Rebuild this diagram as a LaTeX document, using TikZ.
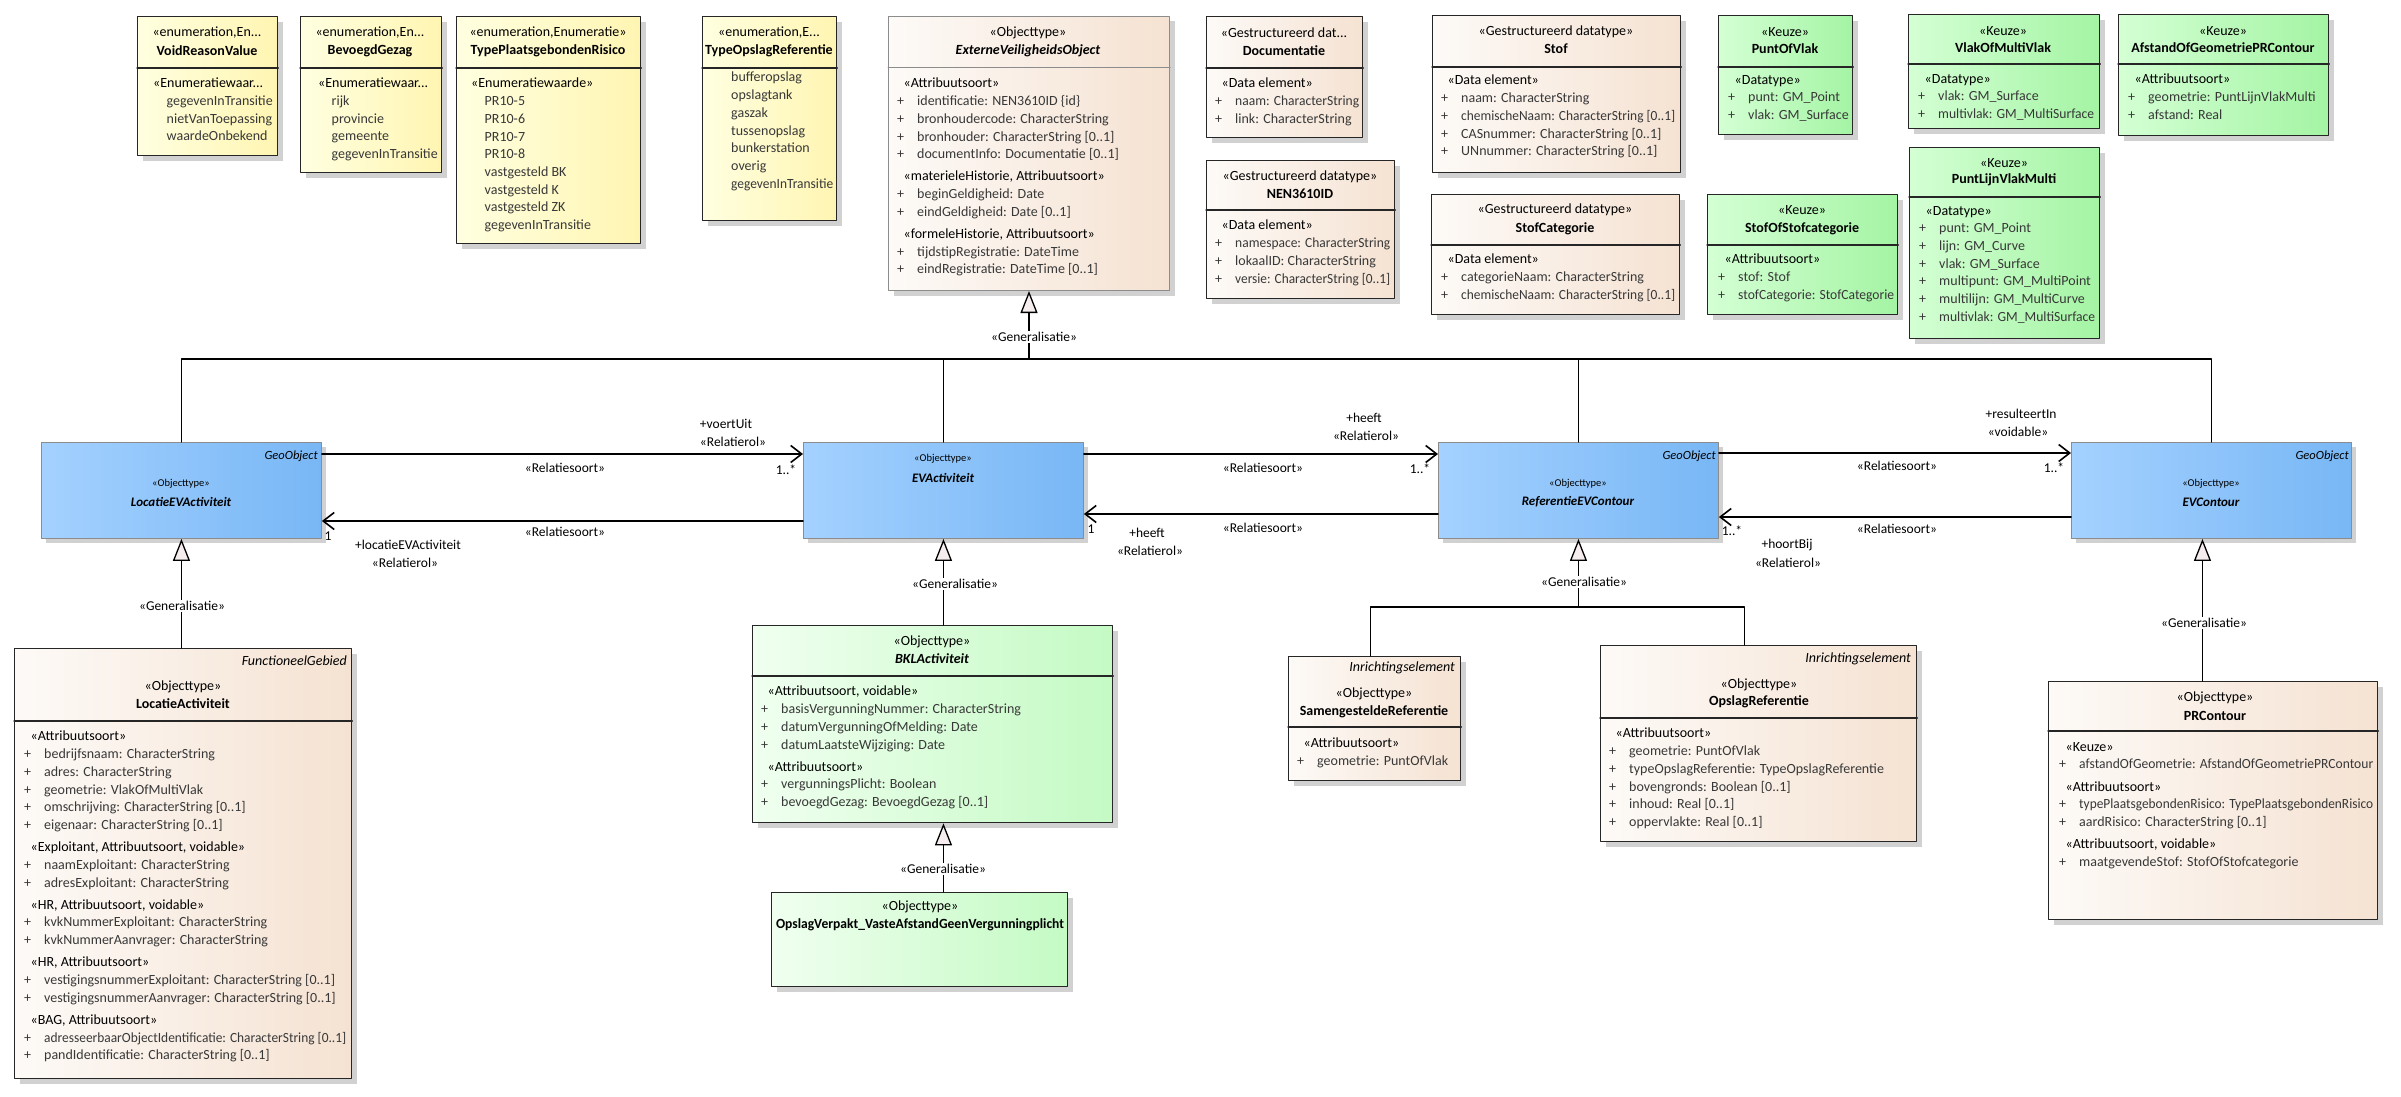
\documentclass[tikz,border=0pt]{standalone}
\usepackage{fontspec}
\setmainfont{Carlito}
\usepackage{graphicx}
\usetikzlibrary{arrows.meta,shadows}

\definecolor{enumL}{HTML}{FFFFE0}
\definecolor{enumR}{HTML}{FFF5B2}
\definecolor{datL}{HTML}{FDFAF7}
\definecolor{datR}{HTML}{F5E2D2}
\definecolor{keuL}{HTML}{D4FFD4}
\definecolor{keuR}{HTML}{A4F4A4}
\definecolor{bklL}{HTML}{F0FFF0}
\definecolor{bklR}{HTML}{C4FAC4}
\definecolor{blauL}{HTML}{A4D1FF}
\definecolor{blauR}{HTML}{78B7F5}
\definecolor{dreieck}{HTML}{F6EEEE}

% zu lange Zeilen horizontal stauchen
\newsavebox{\passbox}
\newcommand{\passend}[2]{\sbox{\passbox}{#2}\ifdim\wd\passbox>#1pt\relax\resizebox{#1pt}{\height}{\usebox{\passbox}}\else\usebox{\passbox}\fi}
\newcommand{\merk}[1]{\makebox[20pt][l]{+}#1}
\newcommand{\rubrik}[1]{\hspace*{6.5pt}\textcolor{black}{#1}}
\newcommand{\wert}[1]{\hspace*{13.5pt}#1}

\tikzset{
  kasten/.style={draw=black!85, line width=1.3pt, inner sep=0pt, anchor=north west,
    drop shadow={shadow xshift=5pt, shadow yshift=-5pt, fill=black!40, opacity=0.45}},
  enum/.style={kasten, left color=enumL, right color=enumR},
  daten/.style={kasten, left color=datL, right color=datR},
  keuze/.style={kasten, left color=keuL, right color=keuR},
  bkl/.style={kasten, left color=bklL, right color=bklR},
  geo/.style={kasten, draw=black!45, line width=0.9pt, left color=blauL, right color=blauR},
  abstr/.style={daten, draw=black!45, line width=1pt},
  trenn/.style={line width=1.3pt, draw=black!85},
  ster/.style={font=\fontsize{14}{16}\selectfont, inner sep=0pt},
  titel/.style={font=\fontsize{14}{16}\selectfont\bfseries, inner sep=0pt},
  abstitel/.style={font=\fontsize{14}{16}\selectfont\bfseries\itshape, inner sep=0pt},
  % Position = Grundlinie der ersten Zeile
  liste/.style={font=\fontsize{14}{17.7}\selectfont, text=black!78, align=left, anchor=north west,
    yshift=13pt, inner sep=0pt, execute at begin node={\rule{0pt}{13pt}}},
  obertyp/.style={font=\fontsize{14}{16}\selectfont\itshape, inner sep=0pt, anchor=east},
  bster/.style={font=\fontsize{10.5}{12}\selectfont, inner sep=0pt},
  bname/.style={font=\fontsize{13}{15}\selectfont\bfseries\itshape, inner sep=0pt},
  bober/.style={font=\fontsize{12.5}{14}\selectfont\itshape, inner sep=0pt, anchor=east},
  rel/.style={font=\fontsize{13.5}{15}\selectfont, inner sep=0pt},
  assoz/.style={line width=1.6pt, -{Straight Barb[length=11pt, width=17pt, line width=1.6pt]}},
  genl/.style={line width=1.3pt},
  gen/.style={genl, -{Triangle[length=22pt, width=17pt, fill=dreieck]}},
  genlab/.style={rel, fill=white, inner sep=1.5pt},
}

\begin{document}
\begin{tikzpicture}[x=1pt, y=-1pt, >=stealth, line cap=round, line join=round]
  \useasboundingbox (0,0) rectangle (2401,1097);

  % Aufzaehlungen
  \node[enum, minimum width=140, minimum height=139] (void) at (137,16) {};
  \draw[trenn] (void.west |- 0,68) -- (void.east |- 0,68);
  \node[ster] (void-s) at (207,33) {«enumeration,En...};
  \node[titel] (void-n) at (207,51) {VoidReasonValue};
  \node[liste] (void-l) at (153,91) {\textcolor{black}{«Enumeratiewaar...}\\\wert{\passend{106}{gegevenInTransitie}}\\\wert{\passend{106}{nietVanToepassing}}\\\wert{waardeOnbekend}};

  \node[enum, minimum width=141, minimum height=156] (bg) at (300,16) {};
  \draw[trenn] (bg.west |- 0,68) -- (bg.east |- 0,68);
  \node[ster] (bg-s) at (370,33) {«enumeration,En...};
  \node[titel] (bg-n) at (370,51) {BevoegdGezag};
  \node[liste] (bg-l) at (318,91) {\textcolor{black}{«Enumeratiewaar...}\\\wert{rijk}\\\wert{provincie}\\\wert{gemeente}\\\wert{\passend{106}{gegevenInTransitie}}};

  \node[enum, minimum width=184, minimum height=227] (tpr) at (456,16) {};
  \draw[trenn] (tpr.west |- 0,68) -- (tpr.east |- 0,68);
  \node[ster] (tpr-s) at (548,33) {«enumeration,Enumeratie»};
  \node[titel] (tpr-n) at (548,51) {TypePlaatsgebondenRisico};
  \node[liste] (tpr-l) at (471,91) {\textcolor{black}{«Enumeratiewaarde»}\\\wert{PR10-5}\\\wert{PR10-6}\\\wert{PR10-7}\\\wert{PR10-8}\\\wert{vastgesteld BK}\\\wert{vastgesteld K}\\\wert{vastgesteld ZK}\\\wert{gegevenInTransitie}};

  \node[enum, minimum width=134, minimum height=204] (tor) at (702,16) {};
  \draw[trenn] (tor.west |- 0,68) -- (tor.east |- 0,68);
  \node[ster] (tor-s) at (769,33) {«enumeration,E...};
  \node[titel] (tor-n) at (769,51) {\passend{128}{TypeOpslagReferentie}};
  \node[liste] (tor-l) at (731,85) {bufferopslag\\opslagtank\\gaszak\\tussenopslag\\bunkerstation\\overig\\\passend{102}{gegevenInTransitie}};

  % Objecttype ExterneVeiligheidsObject
  \node[abstr, minimum width=281, minimum height=274] (evo) at (888,16) {};
  \draw[trenn, draw=black!45, line width=1pt] (evo.west |- 0,68) -- (evo.east |- 0,68);
  \node[ster] (evo-s) at (1028,33) {«Objecttype»};
  \node[abstitel] (evo-n) at (1028,51) {ExterneVeiligheidsObject};
  \node[liste] (evo-l) at (897,91) {\rubrik{«Attribuutsoort»}\\
    \merk{identificatie: NEN3610ID \{id\}}\\
    \merk{bronhoudercode: CharacterString}\\
    \merk{bronhouder: CharacterString [0..1]}\\
    \merk{documentInfo: Documentatie [0..1]}\\[4.5pt]
    \rubrik{«materieleHistorie, Attribuutsoort»}\\
    \merk{beginGeldigheid: Date}\\
    \merk{eindGeldigheid: Date [0..1]}\\[4.5pt]
    \rubrik{«formeleHistorie, Attribuutsoort»}\\
    \merk{tijdstipRegistratie: DateTime}\\
    \merk{eindRegistratie: DateTime [0..1]}};

  % Gestructureerde datatypes
  \node[daten, minimum width=156, minimum height=121] (doc) at (1206,16) {};
  \draw[trenn] (doc.west |- 0,68) -- (doc.east |- 0,68);
  \node[ster] (doc-s) at (1284,33) {«Gestructureerd dat...};
  \node[titel] (doc-n) at (1284,51) {Documentatie};
  \node[liste] (doc-l) at (1215,91) {\rubrik{«Data element»}\\\merk{\passend{124}{naam: CharacterString}}\\\merk{\passend{124}{link: CharacterString}}};

  \node[daten, minimum width=188, minimum height=138] (nen) at (1206,160) {};
  \draw[trenn] (nen.west |- 0,210) -- (nen.east |- 0,210);
  \node[ster] (nen-s) at (1300,177) {«Gestructureerd datatype»};
  \node[titel] (nen-n) at (1300,194) {NEN3610ID};
  \node[liste] (nen-l) at (1215,233) {\rubrik{«Data element»}\\\merk{\passend{155}{namespace: CharacterString}}\\\merk{\passend{155}{lokaalID: CharacterString}}\\\merk{\passend{155}{versie: CharacterString [0..1]}}};

  \node[daten, minimum width=248, minimum height=157] (stof) at (1432,15) {};
  \draw[trenn] (stof.west |- 0,67) -- (stof.east |- 0,67);
  \node[ster] (stof-s) at (1556,32) {«Gestructureerd datatype»};
  \node[titel] (stof-n) at (1556,49) {Stof};
  \node[liste] (stof-l) at (1441,88) {\rubrik{«Data element»}\\\merk{naam: CharacterString}\\\merk{\passend{214}{chemischeNaam: CharacterString [0..1]}}\\\merk{\passend{214}{CASnummer: CharacterString [0..1]}}\\\merk{\passend{214}{UNnummer: CharacterString [0..1]}}};

  \node[daten, minimum width=248, minimum height=120] (stofcat) at (1431,194) {};
  \draw[trenn] (stofcat.west |- 0,245) -- (stofcat.east |- 0,245);
  \node[ster] (stofcat-s) at (1555,210) {«Gestructureerd datatype»};
  \node[titel] (stofcat-n) at (1555,229) {StofCategorie};
  \node[liste] (stofcat-l) at (1441,267) {\rubrik{«Data element»}\\\merk{categorieNaam: CharacterString}\\\merk{\passend{214}{chemischeNaam: CharacterString [0..1]}}};

  % Keuzes
  \node[keuze, minimum width=134, minimum height=119] (pov) at (1718,15) {};
  \draw[trenn] (pov.west |- 0,67) -- (pov.east |- 0,67);
  \node[ster] (pov-s) at (1785,32) {«Keuze»};
  \node[titel] (pov-n) at (1785,49) {PuntOfVlak};
  \node[liste] (pov-l) at (1728,88) {\rubrik{«Datatype»}\\\merk{punt: GM\_Point}\\\merk{vlak: GM\_Surface}};

  \node[keuze, minimum width=190, minimum height=120] (sos) at (1707,194) {};
  \draw[trenn] (sos.west |- 0,245) -- (sos.east |- 0,245);
  \node[ster] (sos-s) at (1802,210) {«Keuze»};
  \node[titel] (sos-n) at (1802,229) {StofOfStofcategorie};
  \node[liste] (sos-l) at (1718,267) {\rubrik{«Attribuutsoort»}\\\merk{stof: Stof}\\\merk{\passend{156}{stofCategorie: StofCategorie}}};

  \node[keuze, minimum width=191, minimum height=114] (vomv) at (1908,14) {};
  \draw[trenn] (vomv.west |- 0,64) -- (vomv.east |- 0,64);
  \node[ster] (vomv-s) at (2003,31) {«Keuze»};
  \node[titel] (vomv-n) at (2003,48) {VlakOfMultiVlak};
  \node[liste] (vomv-l) at (1918,87) {\rubrik{«Datatype»}\\\merk{vlak: GM\_Surface}\\\merk{\passend{156}{multivlak: GM\_MultiSurface}}};

  \node[keuze, minimum width=210, minimum height=121] (aog) at (2118,14) {};
  \draw[trenn] (aog.west |- 0,64) -- (aog.east |- 0,64);
  \node[ster] (aog-s) at (2223,31) {«Keuze»};
  \node[titel] (aog-n) at (2223,48) {AfstandOfGeometriePRContour};
  \node[liste] (aog-l) at (2128,87) {\rubrik{«Attribuutsoort»}\\\merk{geometrie: PuntLijnVlakMulti}\\\merk{afstand: Real}};

  \node[keuze, minimum width=190, minimum height=191] (plvm) at (1909,147) {};
  \draw[trenn] (plvm.west |- 0,197) -- (plvm.east |- 0,197);
  \node[ster] (plvm-s) at (2004,163) {«Keuze»};
  \node[titel] (plvm-n) at (2004,180) {PuntLijnVlakMulti};
  \node[liste] (plvm-l) at (1919,219) {\rubrik{«Datatype»}\\\merk{punt: GM\_Point}\\\merk{lijn: GM\_Curve}\\\merk{vlak: GM\_Surface}\\\merk{\passend{156}{multipunt: GM\_MultiPoint}}\\\merk{\passend{156}{multilijn: GM\_MultiCurve}}\\\merk{\passend{156}{multivlak: GM\_MultiSurface}}};

  % GeoObjecten (blau)
  \node[geo, minimum width=280, minimum height=96] (locev) at (41,442) {};
  \node[bober] (locev-o) at (318,456) {GeoObject};
  \node[bster] (locev-s) at (181,484) {«Objecttype»};
  \node[bname] (locev-n) at (181,502) {LocatieEVActiviteit};

  \node[geo, minimum width=280, minimum height=96] (evact) at (803,442) {};
  \node[bster] (evact-s) at (943,459) {«Objecttype»};
  \node[bname] (evact-n) at (943,478) {EVActiviteit};

  \node[geo, minimum width=280, minimum height=96] (refev) at (1438,442) {};
  \node[bober] (refev-o) at (1716,456) {GeoObject};
  \node[bster] (refev-s) at (1578,484) {«Objecttype»};
  \node[bname] (refev-n) at (1578,502) {ReferentieEVContour};

  \node[geo, minimum width=280, minimum height=96] (evcont) at (2071,442) {};
  \node[bober] (evcont-o) at (2349,456) {GeoObject};
  \node[bster] (evcont-s) at (2211,484) {«Objecttype»};
  \node[bname] (evcont-n) at (2211,502) {EVContour};

  % Unterklassen
  \node[daten, minimum width=337, minimum height=430] (locact) at (14,648) {};
  \draw[trenn] (locact.west |- 0,721) -- (locact.east |- 0,721);
  \node[obertyp] (locact-o) at (347,661) {FunctioneelGebied};
  \node[ster] (locact-s) at (183,687) {«Objecttype»};
  \node[titel] (locact-n) at (183,704) {LocatieActiviteit};
  \node[liste] (locact-l) at (24,744) {\rubrik{«Attribuutsoort»}\\
    \merk{bedrijfsnaam: CharacterString}\\
    \merk{adres: CharacterString}\\
    \merk{geometrie: VlakOfMultiVlak}\\
    \merk{omschrijving: CharacterString [0..1]}\\
    \merk{eigenaar: CharacterString [0..1]}\\[4.5pt]
    \rubrik{«Exploitant, Attribuutsoort, voidable»}\\
    \merk{naamExploitant: CharacterString}\\
    \merk{adresExploitant: CharacterString}\\[4.5pt]
    \rubrik{«HR, Attribuutsoort, voidable»}\\
    \merk{kvkNummerExploitant: CharacterString}\\
    \merk{kvkNummerAanvrager: CharacterString}\\[4.5pt]
    \rubrik{«HR, Attribuutsoort»}\\
    \merk{\passend{302}{vestigingsnummerExploitant: CharacterString [0..1]}}\\
    \merk{\passend{302}{vestigingsnummerAanvrager: CharacterString [0..1]}}\\[4.5pt]
    \rubrik{«BAG, Attribuutsoort»}\\
    \merk{\passend{302}{adresseerbaarObjectIdentificatie: CharacterString [0..1]}}\\
    \merk{pandIdentificatie: CharacterString [0..1]}};

  \node[bkl, minimum width=360, minimum height=197] (bkl) at (752,625) {};
  \draw[trenn] (bkl.west |- 0,676) -- (bkl.east |- 0,676);
  \node[ster] (bkl-s) at (932,642) {«Objecttype»};
  \node[abstitel] (bkl-n) at (932,659) {BKLActiviteit};
  \node[liste] (bkl-l) at (761,699) {\rubrik{«Attribuutsoort, voidable»}\\
    \merk{basisVergunningNummer: CharacterString}\\
    \merk{datumVergunningOfMelding: Date}\\
    \merk{datumLaatsteWijziging: Date}\\[4.5pt]
    \rubrik{«Attribuutsoort»}\\
    \merk{vergunningsPlicht: Boolean}\\
    \merk{bevoegdGezag: BevoegdGezag [0..1]}};

  \node[bkl, minimum width=296, minimum height=94] (opverp) at (771,892) {};
  \node[ster] (opverp-s) at (920,907) {«Objecttype»};
  \node[titel] (opverp-n) at (920,925) {\passend{288}{OpslagVerpakt\_VasteAfstandGeenVergunningplicht}};

  \node[daten, minimum width=172, minimum height=124] (samen) at (1288,656) {};
  \draw[trenn] (samen.west |- 0,727) -- (samen.east |- 0,727);
  \node[obertyp] (samen-o) at (1455,668) {Inrichtingselement};
  \node[ster] (samen-s) at (1374,694) {«Objecttype»};
  \node[titel] (samen-n) at (1374,712) {\passend{166}{SamengesteldeReferentie}};
  \node[liste] (samen-l) at (1297,751) {\rubrik{«Attribuutsoort»}\\\merk{geometrie: PuntOfVlak}};

  \node[daten, minimum width=316, minimum height=196] (opref) at (1600,645) {};
  \draw[trenn] (opref.west |- 0,718) -- (opref.east |- 0,718);
  \node[obertyp] (opref-o) at (1911,659) {Inrichtingselement};
  \node[ster] (opref-s) at (1759,685) {«Objecttype»};
  \node[titel] (opref-n) at (1759,702) {OpslagReferentie};
  \node[liste] (opref-l) at (1609,741) {\rubrik{«Attribuutsoort»}\\
    \merk{geometrie: PuntOfVlak}\\
    \merk{typeOpslagReferentie: TypeOpslagReferentie}\\
    \merk{bovengronds: Boolean [0..1]}\\
    \merk{inhoud: Real [0..1]}\\
    \merk{oppervlakte: Real [0..1]}};

  \node[daten, minimum width=329, minimum height=238] (prc) at (2048,681) {};
  \draw[trenn] (prc.west |- 0,731) -- (prc.east |- 0,731);
  \node[ster] (prc-s) at (2215,698) {«Objecttype»};
  \node[titel] (prc-n) at (2215,716) {PRContour};
  \node[liste] (prc-l) at (2059,755) {\rubrik{«Keuze»}\\
    \merk{\passend{294}{afstandOfGeometrie: AfstandOfGeometriePRContour}}\\[4.5pt]
    \rubrik{«Attribuutsoort»}\\
    \merk{\passend{294}{typePlaatsgebondenRisico: TypePlaatsgebondenRisico}}\\
    \merk{aardRisico: CharacterString [0..1]}\\[4.5pt]
    \rubrik{«Attribuutsoort, voidable»}\\
    \merk{maatgevendeStof: StofOfStofcategorie}};

  % Generalisaties
  \coordinate (balken) at (0,359);
  \draw[genl] (locev.north) -- (locev.north |- balken) -- (evcont.north |- balken) -- (evcont.north);
  \draw[genl] (evact.north) -- (evact.north |- balken);
  \draw[genl] (refev.north) -- (refev.north |- balken);
  \draw[gen] (evo.south |- balken) -- (evo.south);

  \draw[gen] (locev.south |- locact.north) -- (locev.south);
  \draw[gen] (evact.south |- bkl.north) -- (evact.south);
  \draw[gen] (evact.south |- opverp.north) -- (evact.south |- bkl.south);
  \draw[gen] ([xshift=-9pt]evcont.south |- prc.north) -- ([xshift=-9pt]evcont.south);

  \coordinate (ast) at (0,607);
  \draw[genl] ([xshift=-4pt]samen.north) -- ([xshift=-4pt]samen.north |- ast)
    -- ([xshift=-14pt]opref.north |- ast) -- ([xshift=-14pt]opref.north);
  \draw[gen] (refev.south |- ast) -- (refev.south);

  \foreach \x/\y [count=\i] in {1034/337, 182/606, 955/584, 943/869, 1584/582, 2204/623}
    \node[genlab] (gl\i) at (\x,\y) {«Generalisatie»};

  % Relatiesoorten
  \draw[assoz] (locev.east |- 0,454) -- (evact.west |- 0,454);
  \draw[assoz] (evact.west |- 0,521) -- (locev.east |- 0,521);
  \draw[assoz] (evact.east |- 0,454) -- (refev.west |- 0,454);
  \draw[assoz] (refev.west |- 0,514) -- (evact.east |- 0,514);
  \draw[assoz] (refev.east |- 0,453) -- (evcont.west |- 0,453);
  \draw[assoz] (evcont.west |- 0,517) -- (refev.east |- 0,517);

  \foreach \x/\y [count=\i] in {565/468, 565/532, 1263/468, 1263/528, 1897/466, 1897/529}
    \node[rel] (rs\i) at (\x,\y) {«Relatiesoort»};

  \foreach \x/\y/\t [count=\i] in {786/470/{1..*}, 328/536/{1}, 1420/469/{1..*}, 1091/529/{1}, 2054/468/{1..*}, 1732/531/{1..*}}
    \node[rel] (mult\i) at (\x,\y) {\t};

  % Rollen
  \node[rel] (r1) at (726,424) {+voertUit};
  \node[rel] (r1s) at (733,442) {«Relatierol»};
  \node[rel] (r2) at (408,545) {+locatieEVActiviteit};
  \node[rel] (r2s) at (405,563) {«Relatierol»};
  \node[rel] (r3) at (1364,418) {+heeft};
  \node[rel] (r3s) at (1366,436) {«Relatierol»};
  \node[rel] (r4) at (1147,533) {+heeft};
  \node[rel] (r4s) at (1150,551) {«Relatierol»};
  \node[rel] (r5) at (2021,414) {+resulteertIn};
  \node[rel] (r5s) at (2018,432) {«voidable»};
  \node[rel] (r6) at (1787,545) {+hoortBij};
  \node[rel] (r6s) at (1788,563) {«Relatierol»};

\end{tikzpicture}
\end{document}
